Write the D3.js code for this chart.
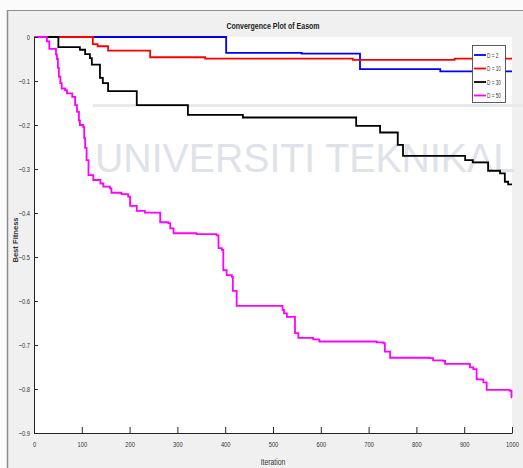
<!DOCTYPE html>
<html>
<head>
<meta charset="utf-8">
<script src="https://cdn.jsdelivr.net/npm/d3@7/dist/d3.min.js"></script>
<style>
  html, body { margin: 0; padding: 0; background: #fbfbfb; }
  svg { display: block; }
  .tick text { font-family: "Liberation Sans", Arial, sans-serif; font-size: 8px; fill: #333; }
</style>
</head>
<body>
<script>
// ---- data (step points: value holds from iteration onward) ----
const seriesNames = ["D = 2", "D = 10", "D = 30", "D = 50"];
const seriesColors = ["#0000ff", "#ff0000", "#000000", "#ff00ff"];

const d2Iter = [0, 402, 560, 682, 850];
const d2Vals = [0, -0.036, -0.038, -0.073, -0.078];

const d10Iter = [0, 123, 133, 155, 243, 358, 667, 880];
const d10Vals = [0, -0.016, -0.021, -0.031, -0.046, -0.049, -0.052, -0.049];

const d30Iter = [0, 51, 96, 107, 117, 121, 138, 144, 155, 215, 322, 437, 674, 724, 761, 772, 902, 918, 950, 975, 985, 992];
const d30Vals = [0, -0.023, -0.029, -0.039, -0.048, -0.063, -0.093, -0.105, -0.123, -0.155, -0.177, -0.183, -0.202, -0.217, -0.245, -0.270, -0.280, -0.285, -0.304, -0.310, -0.329, -0.335];

const d50Iter = [0, 27, 32, 46, 48, 50, 52, 55, 58, 65, 69, 80, 86, 90, 94, 96, 103, 105, 107, 110, 114, 124, 139, 145, 159, 162, 183, 197, 201, 215, 232, 264, 281, 285, 292, 340, 382, 386, 393, 396, 403, 414, 416, 424, 520, 523, 529, 546, 553, 584, 597, 717, 731, 734, 745, 827, 835, 856, 860, 912, 919, 926, 940, 947, 995, 999];
const d50Vals = [0, -0.010, -0.027, -0.040, -0.050, -0.070, -0.090, -0.105, -0.117, -0.121, -0.128, -0.136, -0.155, -0.170, -0.190, -0.200, -0.205, -0.230, -0.252, -0.280, -0.314, -0.325, -0.333, -0.340, -0.344, -0.354, -0.357, -0.363, -0.384, -0.395, -0.399, -0.421, -0.423, -0.435, -0.446, -0.448, -0.451, -0.480, -0.484, -0.530, -0.541, -0.545, -0.577, -0.611, -0.620, -0.628, -0.636, -0.673, -0.684, -0.687, -0.692, -0.694, -0.696, -0.715, -0.729, -0.730, -0.735, -0.736, -0.743, -0.751, -0.755, -0.778, -0.785, -0.802, -0.804, -0.819];

const xTicks = [0, 100, 200, 300, 400, 500, 600, 700, 800, 900, 1000];
const yTicks = [0, -0.1, -0.2, -0.3, -0.4, -0.5, -0.6, -0.7, -0.8, -0.9];

const chartTitle = "Convergence Plot of Easom";
const xLabel = "Iteration";
const yLabel = "Best Fitness";
const watermark = "UNIVERSITI TEKNIKAL";

// ---- drawing ----
const W = 523, H = 468;
const FONT = "Liberation Sans, Arial, sans-serif";
const svg = d3.select("body").append("svg").attr("width", W).attr("height", H);

// condense text horizontally (narrow look of the original)
function narrow(sel, f) {
  sel.each(function () {
    const len = this.getComputedTextLength();
    d3.select(this).attr("textLength", len * f).attr("lengthAdjust", "spacingAndGlyphs");
  });
}

// figure frame
svg.append("rect").attr("x", 7).attr("y", 10).attr("width", W - 7).attr("height", H - 10)
  .attr("fill", "#f0f0f0");
svg.append("line").attr("x1", 7.5).attr("x2", 7.5).attr("y1", 10).attr("y2", H)
  .attr("stroke", "#8c8c8c").attr("stroke-width", 1.5);
svg.append("line").attr("x1", 7).attr("x2", W).attr("y1", 10.5).attr("y2", 10.5)
  .attr("stroke", "#8c8c8c").attr("stroke-width", 1.2);

const x = d3.scaleLinear().domain([0, 1000]).range([34, 512]);
const y = d3.scaleLinear().domain([-0.9, 0]).range([433, 37]);

// axes background
svg.append("rect").attr("x", x(0)).attr("y", y(0)).attr("width", x(1000) - x(0)).attr("height", y(-0.9) - y(0))
  .attr("fill", "#ffffff");

// faint watermark
svg.append("line").attr("x1", 93).attr("x2", W).attr("y1", 105.5).attr("y2", 105.5)
  .attr("stroke", "#e6e8ec").attr("stroke-width", 3);
svg.append("text").attr("x", 95).attr("y", 172).text(watermark)
  .attr("font-family", FONT).attr("font-size", 40)
  .attr("textLength", 420).attr("lengthAdjust", "spacingAndGlyphs")
  .attr("fill", "#dfe2e9");

// title
svg.append("text").attr("x", (x(0) + x(1000)) / 2).attr("y", 29).attr("text-anchor", "middle")
  .attr("font-family", FONT).attr("font-size", 9).attr("font-weight", "bold").attr("fill", "#222")
  .text(chartTitle).call(narrow, 0.78);

// series
const seriesIters = [d2Iter, d10Iter, d30Iter, d50Iter];
const seriesVals = [d2Vals, d10Vals, d30Vals, d50Vals];
const line = d3.line().x(d => x(d[0])).y(d => y(d[1])).curve(d3.curveStepAfter);
seriesIters.forEach((its, i) => {
  const pts = its.map((it, k) => [it, seriesVals[i][k]]);
  pts.push([1000, seriesVals[i][seriesVals[i].length - 1]]);
  svg.append("path").datum(pts).attr("d", line)
    .attr("fill", "none").attr("stroke", seriesColors[i]).attr("stroke-width", 1.8);
});

// axes
const gx = svg.append("g").attr("transform", `translate(0,${y(-0.9)})`)
  .call(d3.axisBottom(x).tickValues(xTicks).tickFormat(d3.format("d")).tickSizeInner(-6).tickSizeOuter(0).tickPadding(8));
const gy = svg.append("g").attr("transform", `translate(${x(0)},0)`)
  .call(d3.axisLeft(y).tickValues(yTicks).tickFormat(d => d === 0 ? "0" : d3.format(".1f")(d)).tickSizeInner(-4).tickSizeOuter(0).tickPadding(4));
[gx, gy].forEach(g => {
  g.select(".domain").attr("stroke", "#262626");
  g.selectAll(".tick line").attr("stroke", "#262626");
  g.selectAll(".tick text").call(narrow, 0.72);
});

// axis labels
svg.append("text").attr("x", (x(0) + x(1000)) / 2).attr("y", 465).attr("text-anchor", "middle")
  .attr("font-family", FONT).attr("font-size", 8.5).attr("fill", "#333").text(xLabel).call(narrow, 0.8);
svg.append("text").attr("transform", `translate(18,${(y(0) + y(-0.9)) / 2 + 5}) rotate(-90)`).attr("text-anchor", "middle")
  .attr("font-family", FONT).attr("font-size", 8).attr("font-weight", "bold").attr("fill", "#333")
  .text(yLabel).call(narrow, 0.95);

// legend
const lg = svg.append("g");
lg.append("rect").attr("x", 472.5).attr("y", 45.5).attr("width", 33).attr("height", 57)
  .attr("fill", "#ffffff").attr("stroke", "#333").attr("stroke-width", 0.8);
seriesNames.forEach((n, i) => {
  const yy = 55 + i * 13.5;
  lg.append("line").attr("x1", 474).attr("x2", 486).attr("y1", yy).attr("y2", yy)
    .attr("stroke", seriesColors[i]).attr("stroke-width", 1.8);
  lg.append("text").attr("x", 487).attr("y", yy + 2.5)
    .attr("font-family", FONT).attr("font-size", 6.5).attr("fill", "#333").text(n).call(narrow, 0.72);
});
</script>
</body>
</html>
